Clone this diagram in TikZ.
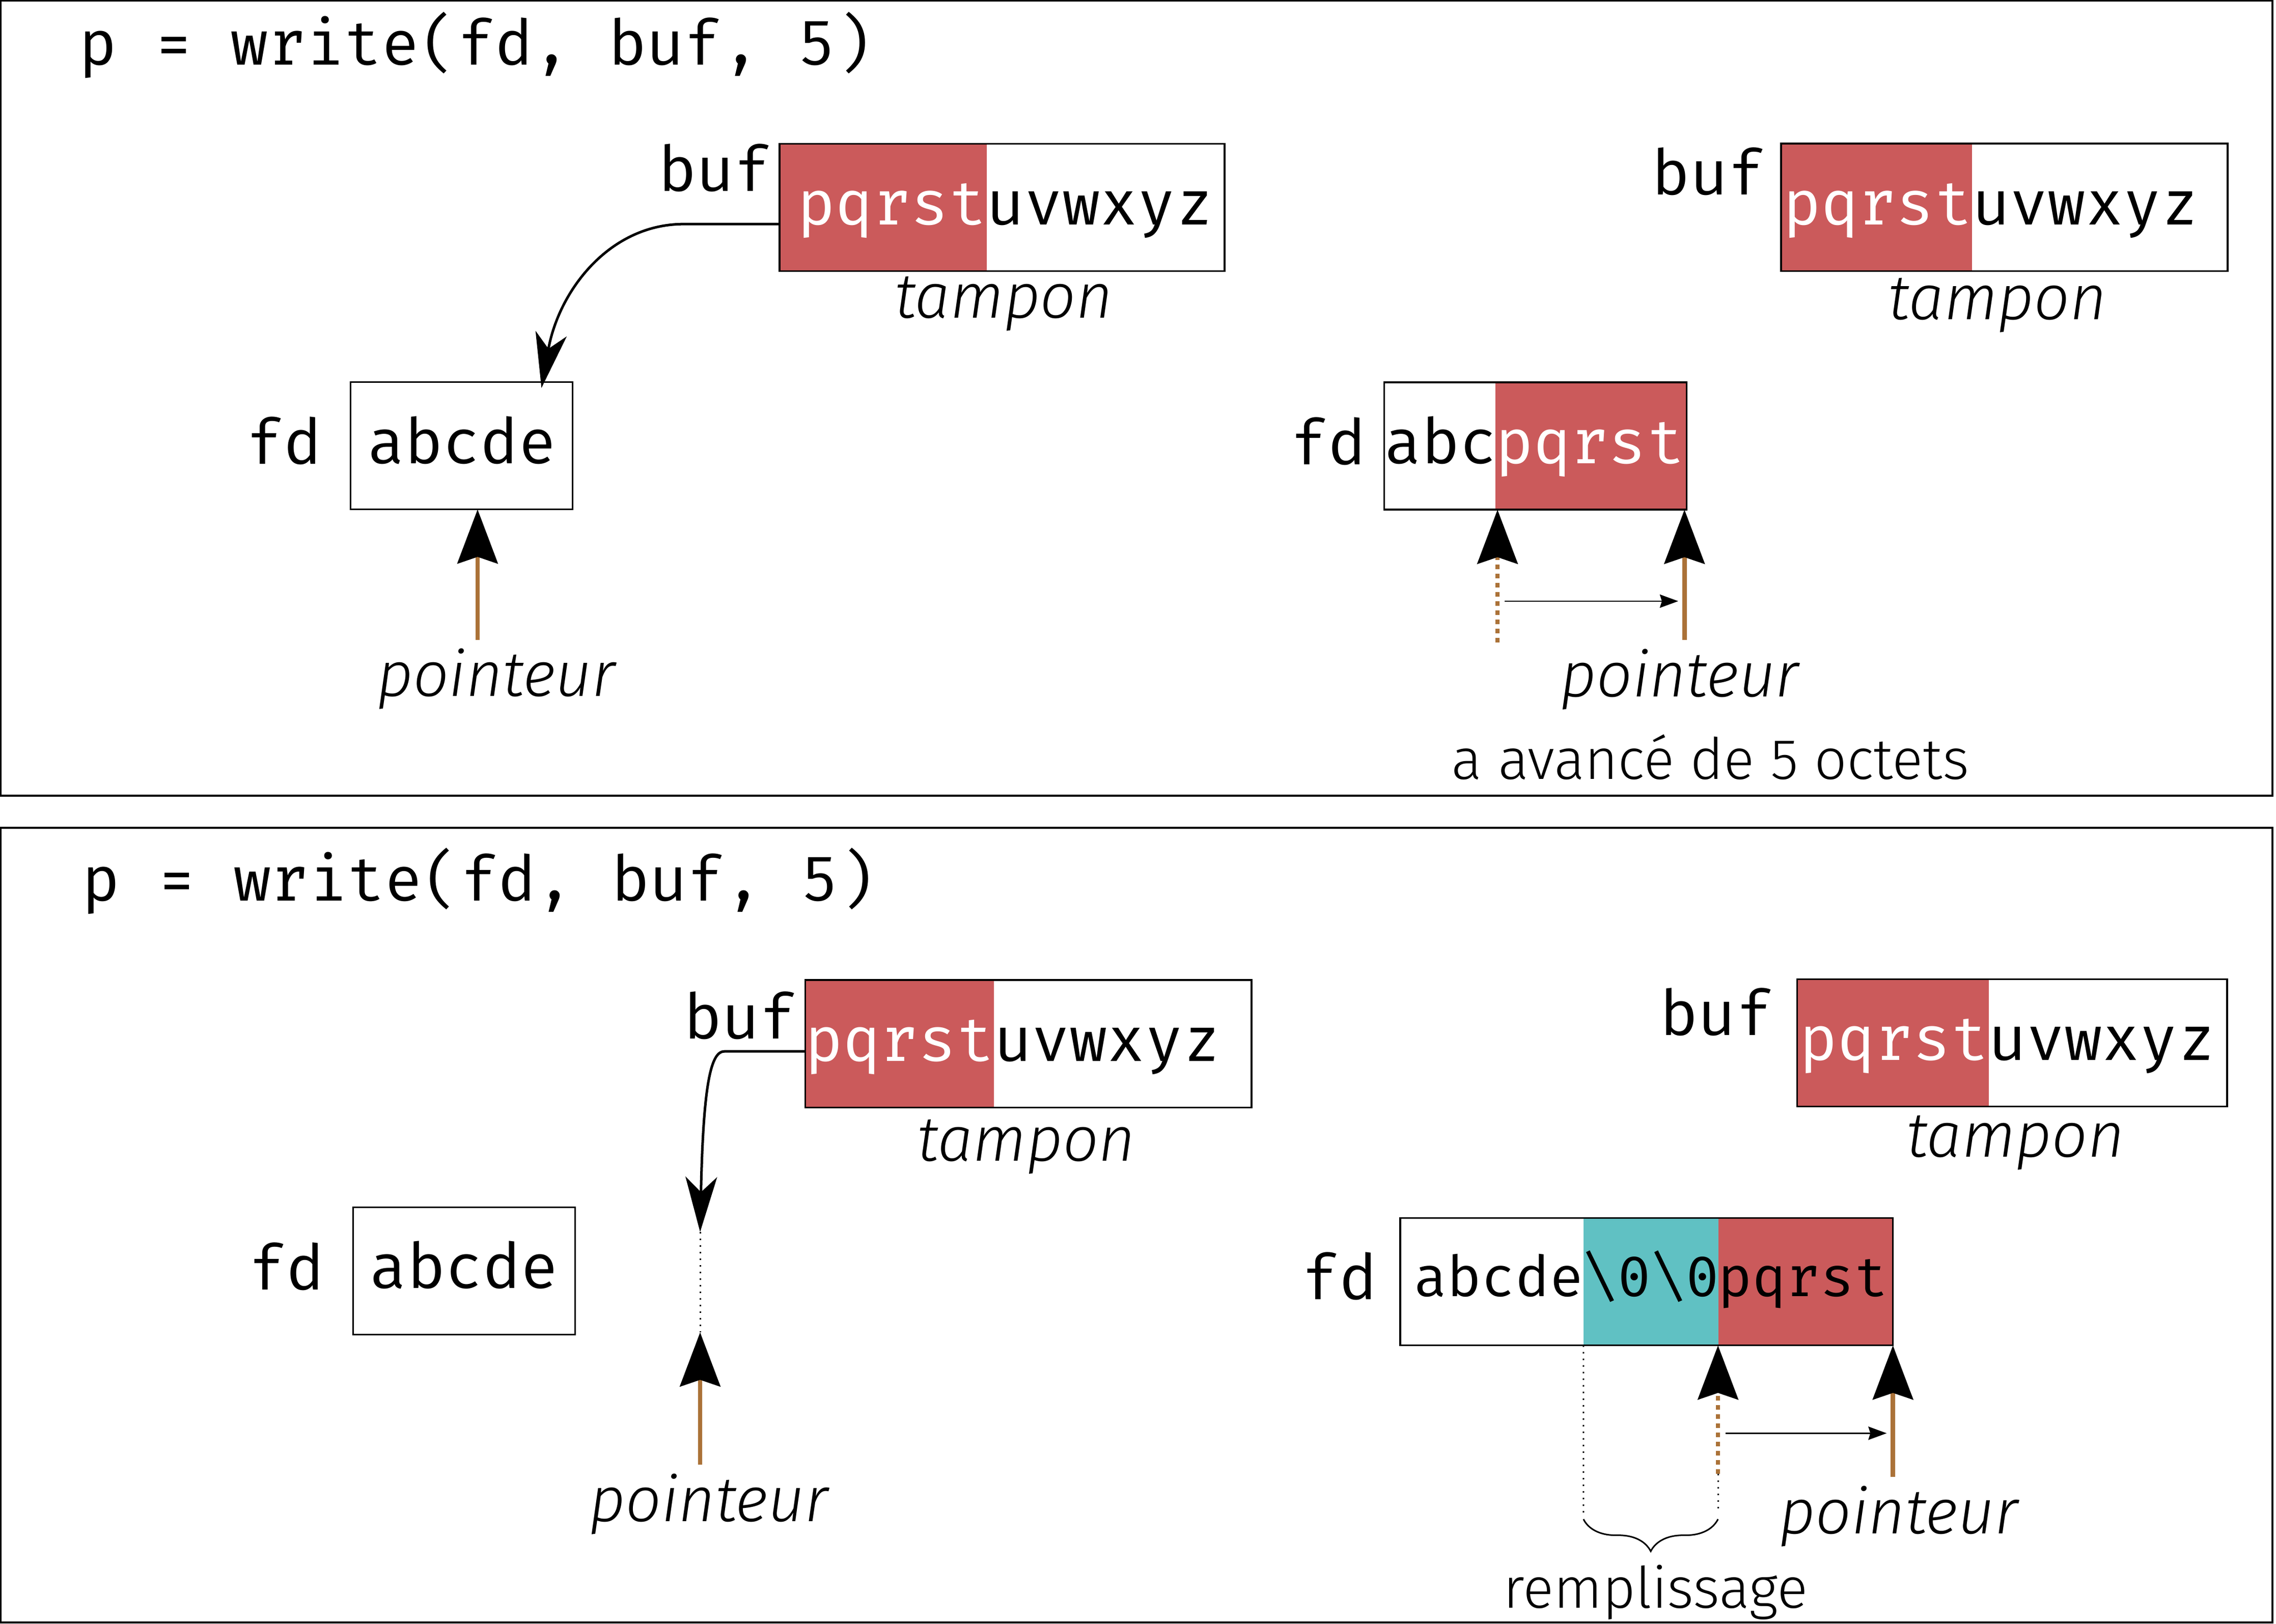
\documentclass[tikz,border=0pt]{standalone}
\usepackage{fontspec}
\setmainfont{Fira Sans Light}[ItalicFont={Fira Sans Light Italic}]
\setmonofont{Fira Mono}
\usetikzlibrary{positioning,arrows.meta,decorations.pathreplacing}

\definecolor{rouge}{RGB}{203,90,91}
\definecolor{turquoise}{RGB}{96,193,195}
\definecolor{brun}{RGB}{171,114,56}

\newcommand{\codefont}{\ttfamily\fontsize{12.35pt}{14pt}\selectfont}
\newcommand{\petitcode}{\ttfamily\fontsize{11.1pt}{13pt}\selectfont}
\newcommand{\notefont}{\itshape\fontsize{12.4pt}{15pt}\selectfont}
\newcommand{\textefont}{\fontsize{11.2pt}{13pt}\selectfont}

\tikzset{
  cadre/.style={draw, line width=0.35pt},
  case/.style={inner xsep=0pt, inner ysep=0pt, outer sep=0pt, minimum height=8.77mm,
    text height=9.3pt, text depth=2.5pt, font=\codefont},
  petitecase/.style={case, text height=8.3pt, text depth=2.5pt, font=\petitcode},
  etiquette/.style={inner sep=0pt, font=\codefont},
  note/.style={inner sep=0pt, font=\notefont},
  texte/.style={inner sep=0pt, font=\textefont},
  pointeur/.style={brun, line width=0.87pt,
    -{Stealth[length=10.6pt, width=7.9pt, inset=1.3pt, color=black]}},
  ancien/.style={pointeur, dash pattern=on 0.9pt off 0.9pt},
  lien/.style={line width=0.5pt, -{Stealth[length=10.8pt, width=6.2pt, inset=3pt]}},
  avance/.style={line width=0.27pt, -{Stealth[length=3.6pt, width=2.6pt, inset=0.4pt]}},
  repere/.style={line width=0.3pt, densely dotted},
}

\begin{document}
\begin{tikzpicture}[x=0.1mm, y=-0.1mm]
  \useasboundingbox (0,0) rectangle (1567.9,1118.9);

  % cadres
  \draw[cadre] (0.6,0.6) rectangle (1565.5,548.3);
  \draw[cadre] (0.6,570.3) rectangle (1565.5,1117.8);

  % avant, en haut
  \node[etiquette, anchor=base west] (titre1) at (54,44.7) {p = write(fd, buf, 5)};

  \node[case, fill=rouge, text=white, text width=14.27mm, align=right, anchor=north west] (b1a) at (537,99.1) {pqrst};
  \node[case, text width=16.39mm, align=left, right=0pt of b1a] (b1b) {uvwxyz};
  \draw[cadre] (b1a.north west) rectangle (b1b.south east);
  \node[etiquette, anchor=base east] (l1) at (532.5,131.7) {buf};
  \node[note, anchor=base] (n1) at (691.5,219) {tampon};

  \node[case, draw, line width=0.3pt, minimum width=15.31mm, anchor=north west] (f1) at (241.5,263.4) {abcde};
  \node[etiquette, anchor=base] (k1) at (195.6,319.6) {fd};

  \coordinate (d1) at (537,154.4);
  \coordinate (e1) at (373,267.3);
  \draw[lien] (d1) -- (471,154.4) .. controls (420,154.4) and (385,200) .. (e1);

  \coordinate (q1) at (329,441);
  \coordinate (t1) at (329,351);
  \draw[pointeur] (q1) -- (t1);
  \node[note, anchor=base] (p1) at (341.8,479.6) {pointeur};

  % apres, en haut
  \node[case, fill=rouge, text=white, text width=13.16mm, align=right, anchor=north west] (b2a) at (1227,99) {pqrst};
  \node[case, text width=17.60mm, align=left, right=0pt of b2a] (b2b) {uvwxyz};
  \draw[cadre] (b2a.north west) rectangle (b2b.south east);
  \node[etiquette, anchor=base east] (l2) at (1217,134.3) {buf};
  \node[note, anchor=base] (n2) at (1376,220) {tampon};

  \node[case, text width=7.67mm, align=right, anchor=north west] (f2a) at (953.5,263.4) {abc};
  \node[case, fill=rouge, text=white, text width=13.16mm, align=left, right=0pt of f2a] (f2b) {pqrst};
  \draw[cadre] (f2a.north west) rectangle (f2b.south east);
  \node[etiquette, anchor=base] (k2) at (915,320) {fd};

  \coordinate (q2a) at (1031.6,442.7);
  \coordinate (t2a) at (1031.6,351.2);
  \coordinate (q2b) at (1160.4,441);
  \coordinate (t2b) at (1160.4,351.2);
  \draw[ancien] (q2a) -- (t2a);
  \draw[pointeur] (q2b) -- (t2b);
  \coordinate (m2a) at (1036.5,414.2);
  \coordinate (m2b) at (1156.1,414.2);
  \draw[avance] (m2a) -- (m2b);
  \node[note, anchor=base] (p2) at (1157,479.9) {pointeur};
  \node[texte, anchor=base] (a2) at (1178.2,536.7) {a avancé de 5 octets};

  % avant, en bas
  \node[etiquette, anchor=base west] (titre2) at (56,620.5) {p = write(fd, buf, 5)};

  \node[case, fill=rouge, text=white, text width=13.00mm, align=right, anchor=north west] (b3a) at (554.7,675.3) {pqrst};
  \node[case, text width=17.75mm, align=left, right=0pt of b3a] (b3b) {uvwxyz};
  \draw[cadre] (b3a.north west) rectangle (b3b.south east);
  \node[etiquette, anchor=base east] (l3) at (550,715.6) {buf};
  \node[note, anchor=base] (n3) at (707,800) {tampon};

  \node[case, draw, line width=0.3pt, minimum width=15.29mm, anchor=north west] (f3) at (243.3,831.7) {abcde};
  \node[etiquette, anchor=base] (k3) at (197.3,888.8) {fd};

  \coordinate (d3) at (554.7,724.4);
  \coordinate (e3) at (482.3,848.8);
  \coordinate (q3) at (482.3,1009);
  \coordinate (t3) at (482.3,918);
  \draw[lien] (d3) -- (499,724.4) .. controls (490,724.4) and (484.5,745) .. (e3);
  \draw[repere] (e3) -- (t3);
  \draw[pointeur] (q3) -- (t3);
  \node[note, anchor=base] (p3) at (488.3,1048.3) {pointeur};

  % apres, en bas
  \node[case, fill=rouge, text=white, text width=13.20mm, align=right, anchor=north west] (b4a) at (1238,674.7) {pqrst};
  \node[case, text width=16.43mm, align=left, right=0pt of b4a] (b4b) {uvwxyz};
  \draw[cadre] (b4a.north west) rectangle (b4b.south east);
  \node[etiquette, anchor=base east] (l4) at (1222.5,713.4) {buf};
  \node[note, anchor=base] (n4) at (1388.4,797) {tampon};

  \node[petitecase, text width=12.62mm, align=right, anchor=north west] (f4a) at (964.6,839.2) {abcde};
  \node[petitecase, fill=turquoise, text width=9.30mm, align=center, right=0pt of f4a] (f4b) {\textbackslash0\textbackslash0};
  \node[petitecase, fill=rouge, text width=12.02mm, align=left, right=0pt of f4b] (f4c) {pqrst};
  \draw[cadre] (f4a.north west) rectangle (f4c.south east);
  \node[etiquette, anchor=base] (k4) at (922.6,895.3) {fd};

  \coordinate (q4a) at (1183.5,1015.4);
  \coordinate (t4a) at (1183.5,927);
  \coordinate (q4b) at (1304,1017.7);
  \coordinate (t4b) at (1304,927);
  \draw[ancien] (q4a) -- (t4a);
  \draw[pointeur] (q4b) -- (t4b);
  \coordinate (m4a) at (1188.8,987.5);
  \coordinate (m4b) at (1299.7,987.5);
  \draw[avance] (m4a) -- (m4b);
  \node[note, anchor=base] (p4) at (1308,1056.5) {pointeur};

  \coordinate (r4a) at (1090.8,1042.6);
  \coordinate (r4b) at (1183.5,1041.7);
  \draw[repere] (f4a.south east) -- (r4a);
  \draw[repere] (q4a) -- (r4b);
  \coordinate (g4a) at (1090.8,1046.7);
  \coordinate (g4b) at (1183.5,1046.7);
  \draw[decorate, decoration={brace, mirror, amplitude=6.3pt}, line width=0.3pt] (g4a) -- (g4b);
  \node[texte, anchor=base] (r4) at (1140.5,1107.7) {remplissage};
\end{tikzpicture}
\end{document}
